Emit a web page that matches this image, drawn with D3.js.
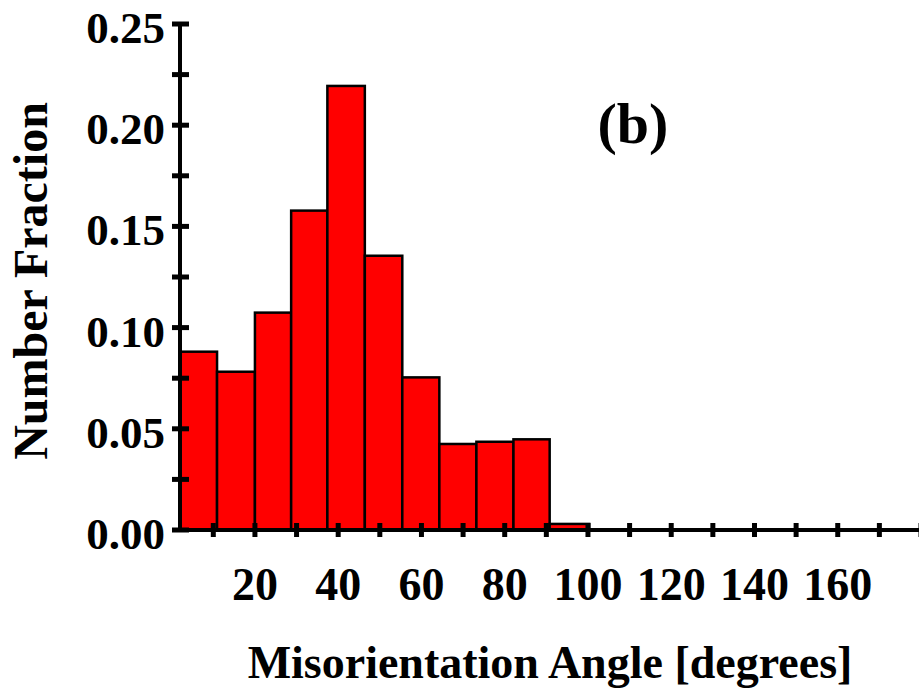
<!DOCTYPE html>
<html>
<head>
<meta charset="utf-8">
<script src="https://cdn.jsdelivr.net/npm/d3@7"></script>
<style>
  html, body { margin: 0; padding: 0; background: #fff; }
  svg { display: block; }
  text { font-family: "Liberation Serif", "Times New Roman", serif; font-weight: bold; fill: #000; }
</style>
</head>
<body>
<script>
// ---- data ----
const binEdges = [2, 10.9, 20, 28.7, 37.4, 46.4, 55.4, 64.3, 73.2, 82.1, 90.8, 100.3];
const fractions = [0.0881, 0.0782, 0.1074, 0.1578, 0.2194, 0.1355, 0.0754, 0.0425, 0.0436, 0.0448, 0.003];
const xTickLabels = [20, 40, 60, 80, 100, 120, 140, 160];
const xMinorTicks = [10, 20, 30, 40, 50, 60, 70, 80, 90, 100, 110, 120, 130, 140, 150, 160, 170, 180];
const yTickLabels = [0.00, 0.05, 0.10, 0.15, 0.20, 0.25];
const yMinorTicks = [0.025, 0.075, 0.125, 0.175, 0.225];
const xTitle = "Misorientation Angle [degrees]";
const yTitle = "Number Fraction";
const panelLabel = "(b)";

const W = 919, H = 691;
const svg = d3.select("body").append("svg").attr("width", W).attr("height", H);

const x = d3.scaleLinear().domain([2, 180]).range([180, 921]);
const y = d3.scaleLinear().domain([0, 0.25]).range([530, 24]);

const bars = binEdges.slice(0, -1).map((e, i) => ({ x0: e, x1: binEdges[i + 1], v: fractions[i] }));

// bars
svg.append("g").selectAll("rect").data(bars).join("rect")
  .attr("x", d => x(d.x0))
  .attr("y", d => y(d.v))
  .attr("width", d => x(d.x1) - x(d.x0))
  .attr("height", d => y(0) - y(d.v))
  .attr("fill", "#ff0000")
  .attr("stroke", "#000")
  .attr("stroke-width", 2.5);

// x axis line
const axX = svg.append("g");
axX.append("line")
  .attr("x1", 173).attr("x2", W)
  .attr("y1", y(0)).attr("y2", y(0))
  .attr("stroke", "#000").attr("stroke-width", 4);
axX.selectAll("line.tick").data(xMinorTicks).join("line").attr("class", "tick")
  .attr("x1", d => x(d)).attr("x2", d => x(d))
  .attr("y1", y(0) - 7).attr("y2", y(0) + 7)
  .attr("stroke", "#000").attr("stroke-width", 5);
axX.selectAll("text").data(xTickLabels).join("text")
  .attr("x", d => x(d)).attr("y", 600)
  .attr("text-anchor", "middle")
  .style("font-size", "46px")
  .text(d => d);

// y axis
const axY = svg.append("g");
axY.append("line")
  .attr("x1", 180).attr("x2", 180)
  .attr("y1", y(0.25) - 2).attr("y2", y(0) + 2)
  .attr("stroke", "#000").attr("stroke-width", 4);
axY.selectAll("line.maj").data(yTickLabels).join("line").attr("class", "maj")
  .attr("x1", 172).attr("x2", 189)
  .attr("y1", d => y(d)).attr("y2", d => y(d))
  .attr("stroke", "#000").attr("stroke-width", 5);
axY.selectAll("line.min").data(yMinorTicks).join("line").attr("class", "min")
  .attr("x1", 172).attr("x2", 189)
  .attr("y1", d => y(d)).attr("y2", d => y(d))
  .attr("stroke", "#000").attr("stroke-width", 5);
axY.selectAll("text").data(yTickLabels).join("text")
  .attr("x", 165).attr("y", d => y(d) + 19)
  .attr("text-anchor", "end")
  .style("font-size", "45px")
  .text(d => d3.format(".2f")(d));

// titles
svg.append("text")
  .attr("x", 550).attr("y", 678)
  .attr("text-anchor", "middle")
  .style("font-size", "46px")
  .text(xTitle);

svg.append("text")
  .attr("transform", "translate(47,281) rotate(-90)")
  .attr("text-anchor", "middle")
  .style("font-size", "48px")
  .text(yTitle);

svg.append("text")
  .attr("x", 633).attr("y", 143)
  .attr("text-anchor", "middle")
  .style("font-size", "58px")
  .text(panelLabel);
</script>
</body>
</html>
